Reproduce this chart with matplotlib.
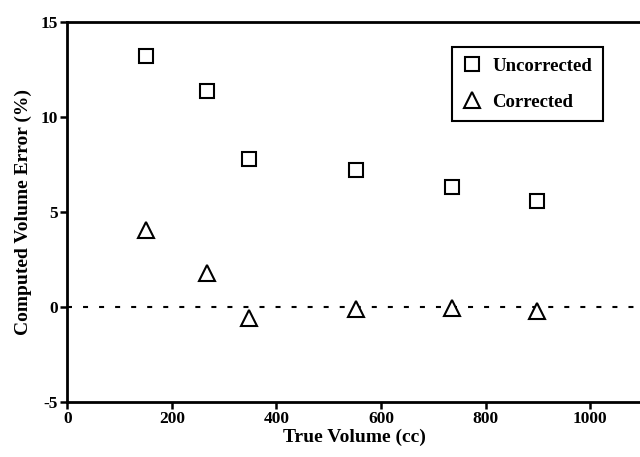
import matplotlib
matplotlib.use("Agg")
import matplotlib.pyplot as plt

# Data
true_volume = [150, 267, 348, 552, 735, 899]
uncorrected = [13.2, 11.4, 7.8, 7.2, 6.3, 5.6]
corrected = [4.05, 1.8, -0.6, -0.1, -0.05, -0.2]
x_ticks = [0, 200, 400, 600, 800, 1000]
y_ticks = [-5, 0, 5, 10, 15]
x_label = "True Volume (cc)"
y_label = "Computed Volume Error (%)"
legend_labels = ["Uncorrected", "Corrected"]

plt.rcParams['font.family'] = ['Liberation Serif', 'DejaVu Serif']
plt.rcParams['axes.unicode_minus'] = False

fig = plt.figure(figsize=(6.4, 4.57), dpi=100)
ax = fig.add_axes([67.4 / 640, 1 - 401.7 / 457, (642.4 - 67.4) / 640, (401.7 - 22.3) / 457])

ax.axhline(0, color='black', lw=1.5, linestyle=(0, (2.4, 5.3)), zorder=1)

ax.plot(true_volume, uncorrected, linestyle='none', marker='s', markersize=10.5,
        markerfacecolor='white', markeredgecolor='black', markeredgewidth=1.5,
        label=legend_labels[0], zorder=3)
ax.plot(true_volume, corrected, linestyle='none', marker='^', markersize=11,
        markerfacecolor='white', markeredgecolor='black', markeredgewidth=1.5,
        label=legend_labels[1], zorder=3)

ax.set_xlim(0, 1100)
ax.set_ylim(-5, 15)
ax.set_xticks(x_ticks)
ax.set_yticks(y_ticks)

for side in ['left', 'bottom', 'top']:
    ax.spines[side].set_linewidth(2)
ax.spines['right'].set_visible(False)

ax.tick_params(direction='out', length=5, width=1.8, labelsize=12.5, pad=2)
for lab in ax.get_xticklabels() + ax.get_yticklabels():
    lab.set_fontweight('bold')

ax.set_xlabel(x_label, fontsize=14, fontweight='bold', labelpad=1)
ax.set_ylabel(y_label, fontsize=14, fontweight='bold', labelpad=6)

leg = ax.legend(loc='upper right', bbox_to_anchor=(602.7 / 640, 1 - 47.3 / 457),
                bbox_transform=fig.transFigure, fancybox=False, framealpha=1,
                edgecolor='black', fontsize=13.5, borderaxespad=0, labelspacing=1.0,
                handlelength=1.0, handletextpad=0.6, borderpad=0.55, markerscale=1.0)
leg.get_frame().set_linewidth(1.5)
for t in leg.get_texts():
    t.set_fontweight('bold')

fig.savefig("out.png", dpi=100)
